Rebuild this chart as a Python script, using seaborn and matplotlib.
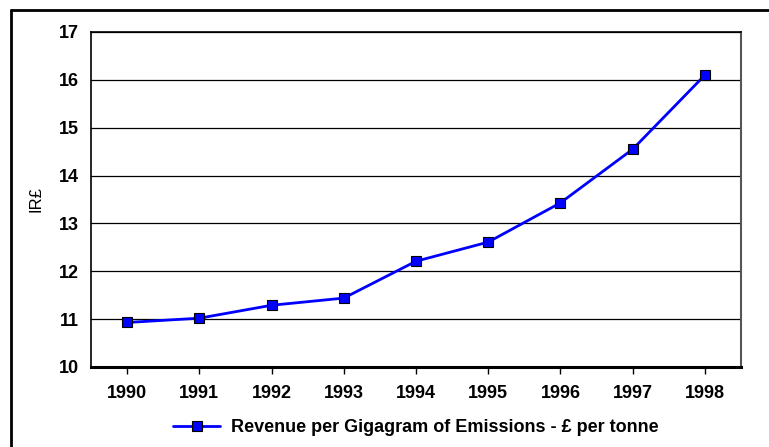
import matplotlib
matplotlib.use("Agg")
import matplotlib.pyplot as plt
from matplotlib.lines import Line2D
import seaborn as sns
import pandas as pd

years = ["1990", "1991", "1992", "1993", "1994", "1995", "1996", "1997", "1998"]
revenue = [10.93, 11.02, 11.29, 11.44, 12.21, 12.61, 13.43, 14.55, 16.10]
series_label = "Revenue per Gigagram of Emissions - \u00a3 per tonne"
y_label = "IR\u00a3"
y_ticks = [10, 11, 12, 13, 14, 15, 16, 17]

sns.set_theme(style="white")
plt.rcParams["font.family"] = ["Liberation Sans", "DejaVu Sans"]
plt.rcParams["text.color"] = "black"
plt.rcParams["axes.labelcolor"] = "black"
plt.rcParams["xtick.color"] = "black"
plt.rcParams["ytick.color"] = "black"

df = pd.DataFrame({"year": years, "value": revenue})

fig = plt.figure(figsize=(7.69, 4.47), dpi=100)
W, H = 769, 447
ax = fig.add_axes([91 / W, (H - 367) / H, (741 - 91) / W, (367 - 32) / H])

sns.lineplot(data=df, x="year", y="value", ax=ax, color="#0000FF", lw=2,
             marker="s", markersize=6.5, markerfacecolor="#0000FF",
             markeredgecolor="black", markeredgewidth=0.8, label=series_label,
             legend=False)

ax.set_xlim(-0.5, len(years) - 0.5)
ax.set_ylim(10, 17)
ax.set_yticks(y_ticks)
ax.set_yticklabels([str(t) for t in y_ticks], fontweight="bold", fontsize=13,
                   color="black")
ax.set_xticks(range(len(years)))
ax.set_xticklabels(years, fontweight="bold", fontsize=13, color="black")
ax.set_xlabel("")
ax.set_ylabel(y_label, fontsize=12, labelpad=11, color="black")

ax.grid(axis="y", color="black", lw=0.9)
ax.grid(axis="x", visible=False)
ax.set_axisbelow(True)

ax.tick_params(axis="x", direction="out", length=5, width=1, color="black",
               pad=8, bottom=True)
ax.tick_params(axis="y", length=0, pad=9)

for side in ["left", "top"]:
    ax.spines[side].set_color("black")
    ax.spines[side].set_linewidth(1.2)
ax.spines["bottom"].set_color("black")
ax.spines["bottom"].set_linewidth(2.2)
ax.spines["right"].set_color("#555555")
ax.spines["right"].set_linewidth(1.5)

handle = Line2D([], [], color="#0000FF", lw=2, marker="s", markersize=6.5,
                markerfacecolor="#0000FF", markeredgecolor="black",
                markeredgewidth=0.8)
leg = fig.legend([handle], [series_label], loc="center",
                 bbox_to_anchor=(416 / W, (H - 428) / H), frameon=False,
                 prop={"weight": "bold", "size": 13}, handlelength=2.6,
                 handletextpad=0.6)
for t in leg.get_texts():
    t.set_color("black")

# outer chart frame (extends beyond the right and bottom edges)
fig.add_artist(Line2D([11 / W, 11 / W], [-0.05, (H - 10) / H], color="black",
                      lw=2, transform=fig.transFigure))
fig.add_artist(Line2D([11 / W, 1.05], [(H - 10) / H, (H - 10) / H],
                      color="black", lw=2, transform=fig.transFigure))

fig.savefig("out.png", dpi=100)
